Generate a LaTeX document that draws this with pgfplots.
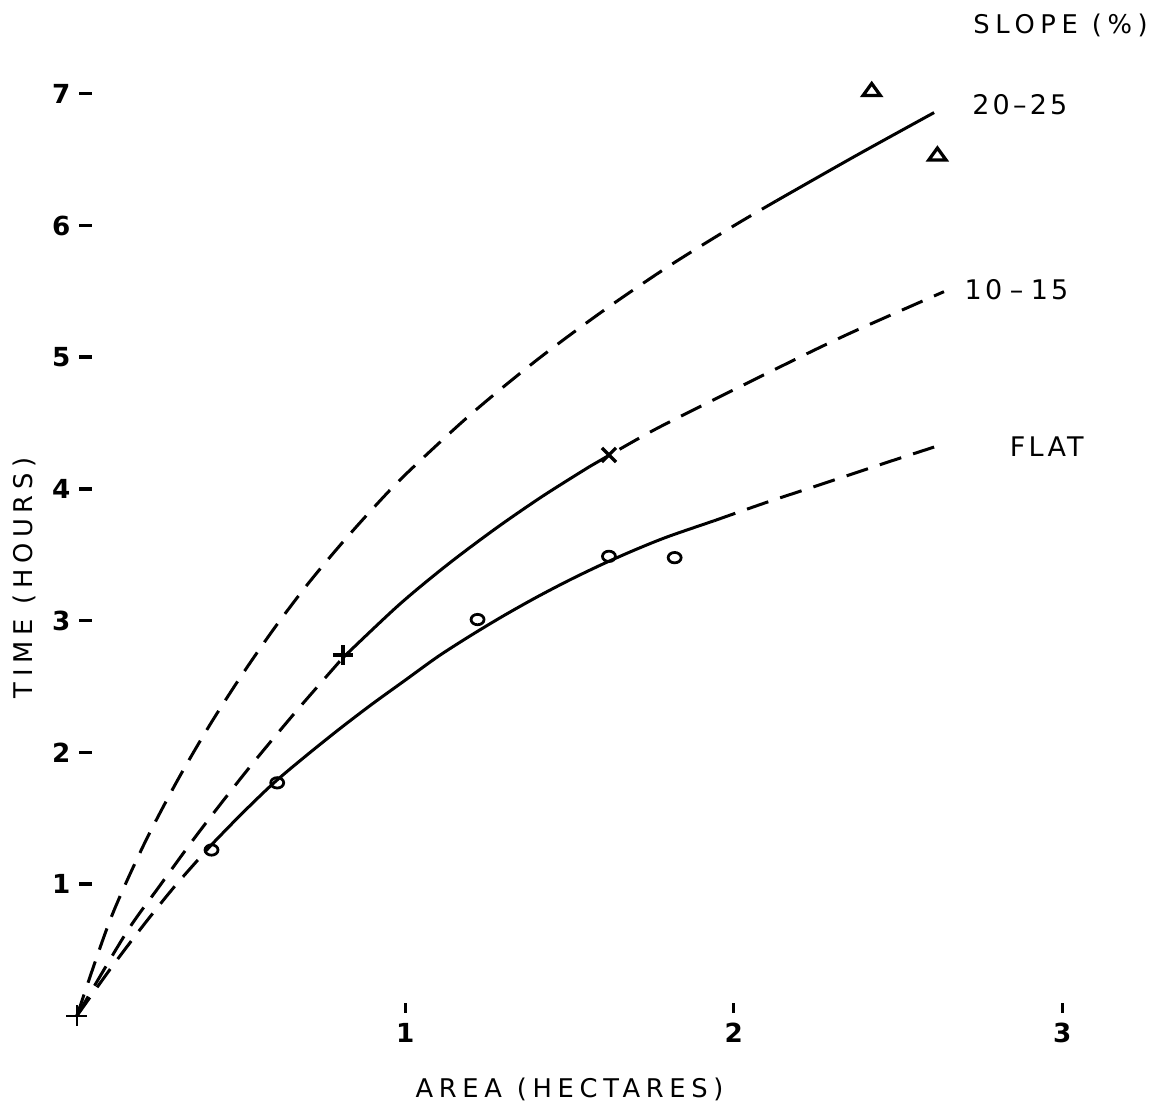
\documentclass[border=0pt]{standalone}
\usepackage{fontspec}
\setmainfont{DejaVu Sans}
\newfontfamily\lett[LetterSpace=22]{DejaVu Sans}
\newfontfamily\lettb[LetterSpace=12]{DejaVu Sans}
\usepackage{pgfplots}
\pgfplotsset{compat=1.18}
\begin{document}
\begin{tikzpicture}
\begin{axis}[
  x=131.4pt, y=52.68pt,
  xmin=0, xmax=3.2, ymin=0, ymax=7.5,
  clip=false,
  axis line style={draw=none},
  tick style={draw=none},
  xtick={1,2,3},
  xticklabels={{\rule{1.3pt}{4pt}\\\textbf{1}},{\rule{1.3pt}{4pt}\\\textbf{2}},{\rule{1.3pt}{4pt}\\\textbf{3}}},
  xticklabel style={align=center, anchor=north, inner sep=0pt, yshift=5.4pt, font=\fontsize{10.5}{12}\selectfont},
  ytick={1,2,3,4,5,6,7},
  yticklabels={{\textbf{1}\hspace{3.6pt}\rule[3.3pt]{5.2pt}{1.3pt}},{\textbf{2}\hspace{3.6pt}\rule[3.3pt]{5.2pt}{1.3pt}},{\textbf{3}\hspace{3.6pt}\rule[3.3pt]{5.2pt}{1.3pt}},{\textbf{4}\hspace{3.6pt}\rule[3.3pt]{5.2pt}{1.3pt}},{\textbf{5}\hspace{3.6pt}\rule[3.3pt]{5.2pt}{1.3pt}},{\textbf{6}\hspace{3.6pt}\rule[3.3pt]{5.2pt}{1.3pt}},{\textbf{7}\hspace{3.6pt}\rule[3.3pt]{5.2pt}{1.3pt}}},
  yticklabel style={anchor=east, inner sep=0pt, xshift=6.4pt, font=\fontsize{10.5}{12}\selectfont},
  every axis plot/.append style={black, line width=1.2pt},
  dashedc/.style={dash pattern=on 9pt off 5pt},
]
% invisible frame giving the picture its size
\path (axis cs:-0.234,-0.69) rectangle (axis cs:3.285,7.715);

% FLAT curve
\addplot[smooth, dashedc, no marks] coordinates {(0,0) (0.1,0.35) (0.2,0.68) (0.3,0.99) (0.41,1.30)};
\addplot[smooth, no marks] coordinates {(0.41,1.30) (0.5,1.53) (0.6,1.77) (0.7,1.98) (0.8,2.18) (0.9,2.37) (1.0,2.55) (1.1,2.73) (1.2,2.89) (1.3,3.04) (1.4,3.18) (1.5,3.31) (1.6,3.43) (1.7,3.54) (1.8,3.64) (1.94,3.76)};
\addplot[smooth, dashedc, no marks] coordinates {(1.94,3.76) (2.1,3.90) (2.27,4.04) (2.45,4.19) (2.61,4.32)};

% 10-15 curve
\addplot[smooth, dashedc, no marks] coordinates {(0,0) (0.15,0.63) (0.25,0.98) (0.37,1.39) (0.52,1.87) (0.67,2.32) (0.81,2.72)};
\addplot[smooth, no marks] coordinates {(0.81,2.72) (0.98,3.12) (1.13,3.43) (1.28,3.71) (1.42,3.95) (1.56,4.17)};
\addplot[smooth, dashedc, no marks] coordinates {(1.56,4.17) (1.75,4.44) (1.94,4.68) (2.15,4.94) (2.35,5.18) (2.64,5.50)};

% 20-25 curve
\addplot[smooth, dashedc, no marks] coordinates {(0,0) (0.1,0.72) (0.2,1.28) (0.3,1.76) (0.4,2.19) (0.5,2.58) (0.6,2.94) (0.7,3.27) (0.8,3.57) (0.9,3.85) (1.0,4.11) (1.2,4.57) (1.4,4.98) (1.6,5.35) (1.8,5.69) (2.0,6.0) (2.13,6.19)};
\addplot[smooth, no marks] coordinates {(2.13,6.19) (2.37,6.53) (2.61,6.86)};

% observations
\addplot[only marks, mark=o, mark size=2.6pt, mark options={line width=1.1pt, yscale=0.8}] coordinates {(0.41,1.26) (0.61,1.77) (1.22,3.01) (1.62,3.49) (1.82,3.48)};
\addplot[only marks, mark=+, mark size=4pt, mark options={line width=1.3pt}] coordinates {(0.81,2.74)};
\addplot[only marks, mark=x, mark size=4pt, mark options={line width=1.3pt}] coordinates {(1.62,4.26)};
\addplot[only marks, mark=triangle, mark size=4pt, mark options={line width=1.3pt, yscale=0.8}] coordinates {(2.42,7.02) (2.62,6.53)};
\addplot[only marks, mark=+, mark size=4.2pt, mark options={line width=1pt}] coordinates {(0,0)};

% labels
\node[font=\lett\fontsize{10.3}{12}\selectfont] at (axis cs:2.995,7.525) {SLOPE (\%)};
\node[font=\lettb\fontsize{10.8}{12}\selectfont] at (axis cs:2.871,6.917) {20\textendash 25};
\node[font=\lettb\fontsize{10.8}{12}\selectfont] at (axis cs:2.861,5.513) {10\hspace{3pt}\textendash\hspace{3pt}15};
\node[font=\lettb\fontsize{10.8}{12}\selectfont] at (axis cs:2.953,4.320) {FLAT};
\node[font=\lett\fontsize{10.3}{12}\selectfont] at (axis cs:1.50,-0.562) {AREA\hspace{6pt}(HECTARES)};
\node[font=\lett\fontsize{10.3}{12}\selectfont, rotate=90] at (axis cs:-0.161,3.326) {TIME\hspace{6pt}(HOURS)};
\end{axis}
\end{tikzpicture}
\end{document}
